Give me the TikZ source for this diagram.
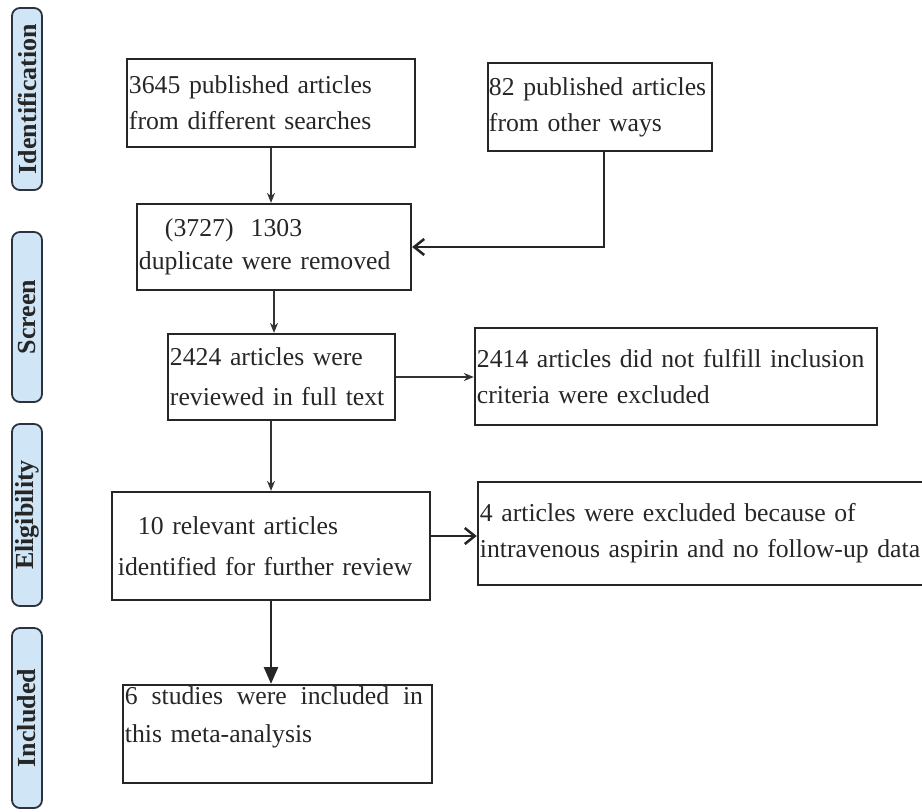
\documentclass[tikz,border=0pt]{standalone}
\usepackage{fontspec}
\setmainfont{Liberation Serif}
\usetikzlibrary{arrows.meta,positioning}

\definecolor{phasefill}{RGB}{208,230,247}
\definecolor{phaseline}{RGB}{45,50,65}

\tikzset{
  box/.style={draw=black!85, line width=1.6pt, rectangle, align=left,
    inner xsep=0.05cm, inner ysep=0pt, text=black!85,
    font=\fontsize{18.3}{25.6}\selectfont},
  phase/.style={draw=phaseline, fill=phasefill, line width=1.3pt,
    rounded corners=0.2cm, rotate=90, minimum height=0.75cm, inner sep=0pt,
    text=black!85, font=\fontsize{18.5}{22}\selectfont\bfseries},
  thinarr/.style={line width=0.9pt, draw=black!80, -{Stealth[length=0.25cm,width=0.2cm]}},
  barbarr/.style={line width=1.8pt, draw=black!85, -{Straight Barb[length=0.25cm,width=0.4cm]}},
  bigarr/.style={line width=1.8pt, draw=black!85, -{Triangle[length=0.42cm,width=0.35cm]}},
}

\begin{document}
\begin{tikzpicture}[x=0.025cm,y=-0.025cm]
  \useasboundingbox (0,0) rectangle (922,811);
  \clip (0,0) rectangle (922,811);
  % phases
  \node[phase, minimum width=4.55cm] (id) at (27,99) {Identification};
  \node[phase, minimum width=4.25cm] (sc) at (27,317) {Screen};
  \node[phase, minimum width=4.55cm] (el) at (27,515) {Eligibility};
  \node[phase, minimum width=4.5cm] (in) at (27,718) {Included};
  % boxes
  \node[box, text width=7.1cm, minimum height=2.2cm] (srch) at (271,103)
    {3645 published articles\\from different searches};
  \node[box, text width=5.55cm, minimum height=2.2cm, inner xsep=0.025cm] (othr) at (600,107)
    {82 published articles\\from other ways};
  \node[box, text width=6.75cm, minimum height=2.15cm,
    font=\fontsize{18.3}{23.5}\selectfont] (dup) at (274,247)
    {\hspace*{0.65cm}(3727)~~1303\\duplicate were removed};
  \node[box, text width=5.575cm, minimum height=2.15cm,
    font=\fontsize{18.3}{28.5}\selectfont] (full) at (281.5,377)
    {2424 articles were\\reviewed in full text};
  \node[box, text width=9.95cm, minimum height=2.425cm] (exf) at (676,376.5)
    {2414 articles did not fulfill inclusion\\criteria were excluded};
  \node[box, text width=7.85cm, minimum height=2.7cm,
    font=\fontsize{18.3}{29}\selectfont] (rel) at (271,546)
    {\hspace*{0.6cm}10 relevant articles\\\hspace*{0.1cm}identified for further review};
  \node[box, text width=11.325cm, minimum height=2.575cm] (exa) at (706.5,533.5)
    {4 articles were excluded because of\\intravenous aspirin and no follow-up data};
  \node[box, text width=7.625cm, minimum height=2.45cm,
    font=\fontsize{18.3}{27.5}\selectfont] (meta) at (277.5,734)
    {\makebox[7.45cm][l]{6\hfill studies\hfill were\hfill included\hfill in}\\this meta-analysis\\\mbox{}};
  % connectors
  \coordinate (r7) at ([yshift=0.25cm]rel.east);
  \draw[thinarr] (srch.south) -- (srch.south |- dup.north);
  \draw[barbarr] ([xshift=0.1cm]othr.south) |- (dup.east);
  \draw[thinarr] (dup.south) -- (dup.south |- full.north);
  \draw[thinarr] (full.east) -- (full.east -| exf.west);
  \draw[thinarr] (rel.north |- full.south) -- (rel.north);
  \draw[barbarr] (r7) -- (r7 -| exa.west);
  \draw[bigarr] (rel.south) -- (rel.south |- meta.north);
\end{tikzpicture}
\end{document}
